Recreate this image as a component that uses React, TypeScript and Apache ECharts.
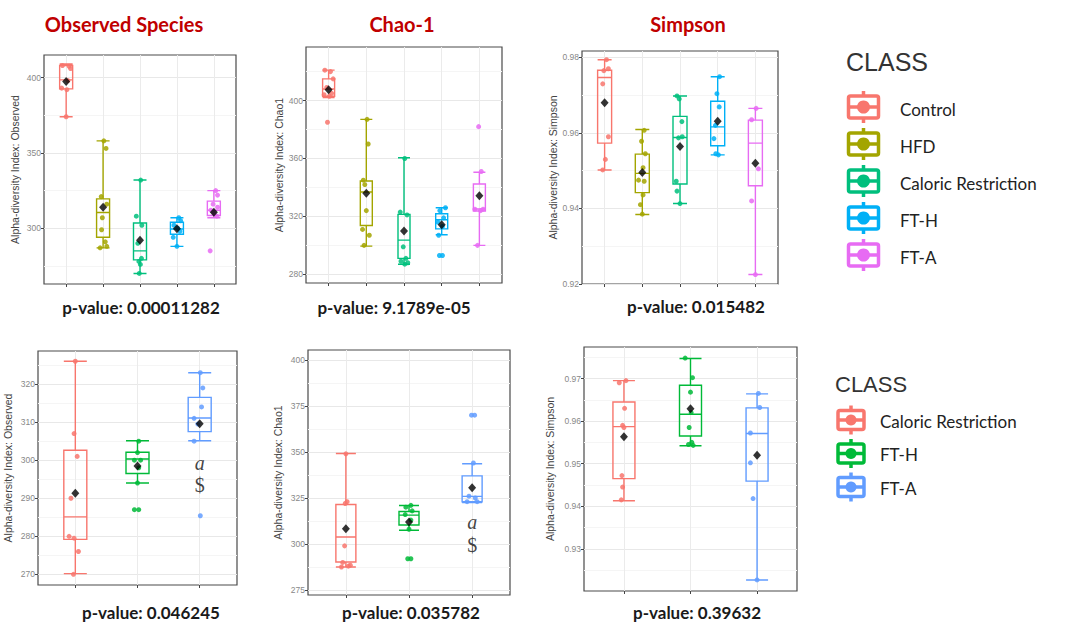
import React, { useEffect, useRef } from 'react';
import * as echarts from 'echarts';

// ---------- classes & colours ----------
const TOP_CLASSES = ['Control', 'HFD', 'Caloric Restriction', 'FT-H', 'FT-A'];
const TOP_COLORS = ['#F8766D', '#A3A500', '#00BF7D', '#00B0F6', '#E76BF3'];
const BOTTOM_CLASSES = ['Caloric Restriction', 'FT-H', 'FT-A'];
const BOTTOM_COLORS = ['#F8766D', '#00BA38', '#619CFF'];

// ---------- titles / p-values ----------
const TITLES = ['Observed Species', 'Chao-1', 'Simpson'];
const PVALUES_TOP = ['p-value: 0.00011282', 'p-value: 9.1789e-05', 'p-value: 0.015482'];
const PVALUES_BOTTOM = ['p-value: 0.046245', 'p-value: 0.035782', 'p-value: 0.39632'];

// ---------- top row: Observed ----------
// box stats: [lower whisker, Q1, median, Q3, upper whisker]
const OBS_TOP_BOX = [
  [374, 392.5, 398.5, 408, 409],
  [287, 294, 310.5, 319.5, 358],
  [270, 279, 285, 303.5, 332],
  [288, 296, 299.5, 304, 307],
  [307, 308.5, 312, 318, 325],
];
const OBS_TOP_MEAN = [397.4, 314, 292, 299.7, 310.6];
// points: [jitter offset, value]
const OBS_TOP_POINTS = [
  [[-0.1, 408], [0.08, 407.5], [0.12, 406], [0.05, 398], [-0.12, 393], [0.02, 392], [0, 374]],
  [[0.02, 358], [0.08, 353], [-0.05, 321], [0.1, 316], [-0.02, 307], [-0.04, 299], [0.06, 291], [0.1, 288], [-0.08, 287]],
  [[0.02, 332], [-0.1, 308], [0.05, 302], [-0.06, 290], [0.04, 280], [-0.03, 278], [0.01, 276], [-0.02, 270]],
  [[0.05, 307], [0.1, 305], [-0.08, 302], [0.02, 300], [0.08, 298], [-0.1, 294], [0, 288]],
  [[0.05, 325], [0.1, 322], [-0.02, 316], [0.1, 314], [-0.08, 312], [0, 310], [0.08, 308], [-0.1, 285]],
];
const OBS_TOP_TICKS = [300, 350, 400];
const OBS_TOP_MINOR = [275, 325, 375];

// ---------- top row: Chao1 ----------
const CHAO_TOP_BOX = [
  [402, 403, 408, 415, 421],
  [299.5, 313.7, 336.9, 344.5, 387],
  [287, 291, 303.6, 321.4, 360.5],
  [307.3, 311.4, 317.7, 321.8, 326],
  [300, 323.7, 325.1, 342.4, 350.5],
];
const CHAO_TOP_MEAN = [407.4, 336, 310, 314.2, 334.3];
const CHAO_TOP_POINTS = [
  [[-0.1, 421], [0.05, 420], [0.12, 415], [-0.05, 409], [0.08, 405], [-0.12, 404], [0.02, 403], [-0.03, 385]],
  [[0.02, 387], [0.05, 370], [-0.08, 345], [-0.04, 342], [0, 324], [-0.1, 311], [0.08, 307], [-0.06, 300]],
  [[0.02, 360], [-0.1, 323], [0.08, 321], [-0.02, 299], [0.05, 291], [-0.08, 289], [0.1, 288], [0.02, 287]],
  [[0.1, 326], [-0.05, 324], [0.05, 319], [-0.1, 316], [0.02, 313], [-0.08, 307], [-0.06, 293], [0.02, 293]],
  [[-0.02, 382], [0.05, 351], [-0.12, 325], [0.1, 325], [0.03, 324], [-0.05, 300]],
];
const CHAO_TOP_TICKS = [280, 320, 360, 400];
const CHAO_TOP_MINOR = [300, 340, 380, 420];

// ---------- top row: Simpson ----------
const SIMP_TOP_BOX = [
  [0.9502, 0.9573, 0.9747, 0.9766, 0.9794],
  [0.9384, 0.9442, 0.9493, 0.9544, 0.9609],
  [0.9413, 0.9465, 0.9588, 0.9644, 0.9698],
  [0.9542, 0.9566, 0.9616, 0.9684, 0.9749],
  [0.9225, 0.946, 0.9573, 0.9634, 0.9665],
];
const SIMP_TOP_MEAN = [0.968, 0.9495, 0.9564, 0.9631, 0.952];
const SIMP_TOP_POINTS = [
  [[0.05, 0.9794], [0.1, 0.977], [-0.02, 0.9765], [-0.05, 0.973], [0.1, 0.959], [0.02, 0.953], [-0.05, 0.9502]],
  [[0.05, 0.9607], [-0.02, 0.9578], [0.08, 0.9545], [0.02, 0.9508], [-0.1, 0.9475], [0.05, 0.9472], [0.02, 0.9436], [-0.05, 0.941], [0, 0.9385]],
  [[-0.08, 0.9698], [-0.02, 0.969], [0.05, 0.963], [0.06, 0.959], [-0.04, 0.9587], [-0.1, 0.9472], [-0.08, 0.9446], [0, 0.9413]],
  [[0.05, 0.9749], [-0.02, 0.9704], [0.04, 0.9669], [-0.06, 0.962], [-0.1, 0.9585], [-0.05, 0.9545], [0.02, 0.9542]],
  [[0.02, 0.9665], [-0.1, 0.9635], [0.08, 0.9505], [-0.1, 0.942], [0, 0.9225]],
];
const SIMP_TOP_TICKS = [0.92, 0.94, 0.96, 0.98];
const SIMP_TOP_MINOR = [0.93, 0.95, 0.97];

// ---------- bottom row: Observed ----------
const OBS_BOT_BOX = [
  [270.2, 279.2, 285.1, 302.6, 326],
  [294, 296.5, 300.3, 302.1, 305.1],
  [305.1, 307.5, 311.1, 316.5, 323],
];
const OBS_BOT_MEAN = [291.3, 298.5, 309.6];
const OBS_BOT_POINTS = [
  [[0, 326], [-0.02, 307], [0.03, 301], [-0.07, 290], [-0.1, 280], [-0.02, 279.5], [0.05, 276], [-0.03, 270]],
  [[0.02, 305], [0, 302], [-0.05, 300], [0.05, 300], [0.02, 298], [0, 294], [-0.05, 287], [0.02, 287]],
  [[0.01, 323], [0.05, 319], [0.03, 314], [-0.09, 311], [-0.03, 309.5], [-0.09, 305], [0.01, 285.4]],
];
const OBS_BOT_TICKS = [270, 280, 290, 300, 310, 320];
const OBS_BOT_MINOR = [275, 285, 295, 305, 315, 325];
const OBS_BOT_ANNOT = [['a', 299.3], ['$', 293.4]];

// ---------- bottom row: Chao1 ----------
const CHAO_BOT_BOX = [
  [287.5, 290.2, 303.8, 321.5, 349.2],
  [307.5, 310.3, 315.7, 317.7, 320.9],
  [322.5, 323, 325.9, 337, 343.6],
];
const CHAO_BOT_MEAN = [308.3, 311.9, 330.5];
const CHAO_BOT_POINTS = [
  [[0, 349], [0.02, 323], [-0.01, 322], [-0.02, 299], [-0.05, 290], [-0.07, 287.5], [0.07, 288.5], [0.04, 288]],
  [[0.03, 321], [-0.05, 320], [0.05, 318], [-0.06, 316], [0.03, 313], [0, 308], [-0.02, 292], [0.03, 292]],
  [[-0.01, 370], [0.04, 370], [0.02, 344], [-0.05, 326], [0.05, 325], [-0.08, 323], [0.08, 323]],
];
const CHAO_BOT_TICKS = [275, 300, 325, 350, 375, 400];
const CHAO_BOT_MINOR = [287.5, 312.5, 337.5, 362.5, 387.5];
const CHAO_BOT_ANNOT = [['a', 311.9], ['$', 299.6]];

// ---------- bottom row: Simpson ----------
const SIMP_BOT_BOX = [
  [0.9413, 0.9465, 0.9587, 0.9645, 0.9695],
  [0.9542, 0.9565, 0.9616, 0.9684, 0.9747],
  [0.9227, 0.9459, 0.9571, 0.9631, 0.9664],
];
const SIMP_BOT_MEAN = [0.9563, 0.9629, 0.952];
const SIMP_BOT_POINTS = [
  [[-0.07, 0.969], [0.03, 0.9695], [0.01, 0.963], [-0.02, 0.959], [0, 0.9585], [-0.03, 0.9472], [-0.02, 0.9445], [-0.04, 0.9415]],
  [[-0.08, 0.9748], [0.03, 0.9702], [0, 0.9668], [0.01, 0.962], [-0.02, 0.9585], [0.02, 0.955], [-0.03, 0.9545], [0.04, 0.9543]],
  [[0.02, 0.9665], [0.04, 0.9632], [-0.1, 0.9572], [-0.1, 0.9502], [-0.06, 0.9418], [0, 0.9227]],
];
const SIMP_BOT_TICKS = [0.93, 0.94, 0.95, 0.96, 0.97];
const SIMP_BOT_MINOR = [0.925, 0.935, 0.945, 0.955, 0.965, 0.975];

// ---------- panel assembly (layout kept separately from data) ----------
const PANELS = [
  { name: 'Alpha-diversity Index: Observed', classes: TOP_CLASSES, colors: TOP_COLORS, box: OBS_TOP_BOX, mean: OBS_TOP_MEAN, points: OBS_TOP_POINTS, ticks: OBS_TOP_TICKS, minor: OBS_TOP_MINOR, yMin: 263, yMax: 415, dec: 0, annot: null,
    grid: { left: 44, top: 55, width: 192, height: 229 }, nameGap: 24, boxW: 13 },
  { name: 'Alpha-diversity Index: Chao1', classes: TOP_CLASSES, colors: TOP_COLORS, box: CHAO_TOP_BOX, mean: CHAO_TOP_MEAN, points: CHAO_TOP_POINTS, ticks: CHAO_TOP_TICKS, minor: CHAO_TOP_MINOR, yMin: 274, yMax: 437, dec: 0, annot: null,
    grid: { left: 306, top: 47, width: 196, height: 236 }, nameGap: 22, boxW: 12 },
  { name: 'Alpha-diversity Index: Simpson', classes: TOP_CLASSES, colors: TOP_COLORS, box: SIMP_TOP_BOX, mean: SIMP_TOP_MEAN, points: SIMP_TOP_POINTS, ticks: SIMP_TOP_TICKS, minor: SIMP_TOP_MINOR, yMin: 0.92, yMax: 0.9817, dec: 2, annot: null,
    grid: { left: 582, top: 51, width: 196, height: 233 }, nameGap: 24, boxW: 14 },
  { name: 'Alpha-diversity Index: Observed', classes: BOTTOM_CLASSES, colors: BOTTOM_COLORS, box: OBS_BOT_BOX, mean: OBS_BOT_MEAN, points: OBS_BOT_POINTS, ticks: OBS_BOT_TICKS, minor: OBS_BOT_MINOR, yMin: 267.2, yMax: 328.7, dec: 0, annot: OBS_BOT_ANNOT,
    grid: { left: 38, top: 351, width: 199, height: 234 }, nameGap: 25, boxW: 23 },
  { name: 'Alpha-diversity Index: Chao1', classes: BOTTOM_CLASSES, colors: BOTTOM_COLORS, box: CHAO_BOT_BOX, mean: CHAO_BOT_MEAN, points: CHAO_BOT_POINTS, ticks: CHAO_BOT_TICKS, minor: CHAO_BOT_MINOR, yMin: 272.3, yMax: 405.4, dec: 0, annot: CHAO_BOT_ANNOT,
    grid: { left: 308, top: 350, width: 202, height: 245 }, nameGap: 25, boxW: 20 },
  { name: 'Alpha-diversity Index: Simpson', classes: BOTTOM_CLASSES, colors: BOTTOM_COLORS, box: SIMP_BOT_BOX, mean: SIMP_BOT_MEAN, points: SIMP_BOT_POINTS, ticks: SIMP_BOT_TICKS, minor: SIMP_BOT_MINOR, yMin: 0.9201, yMax: 0.9774, dec: 2, annot: null,
    grid: { left: 584, top: 347, width: 213, height: 244 }, nameGap: 29, boxW: 22 },
];

const TITLE_POS = [[124, 24], [402, 24], [688, 24]];
const PTOP_POS = [[141, 307], [394, 307], [696, 306]];
const PBOT_POS = [[151, 612], [411, 612], [697, 612]];

const SANS = 'Lato, "Liberation Sans", sans-serif';
const AXIS_FONT = '"Liberation Sans", Arial, sans-serif';

function legendKey(cx: number, cy: number, color: string, w: number, h: number, r: number) {
  return {
    type: 'group', x: cx, y: cy, silent: true,
    children: [
      { type: 'line', shape: { x1: 0, y1: -h / 2 - 5, x2: 0, y2: h / 2 + 5 }, style: { stroke: color, lineWidth: 3.5 } },
      { type: 'rect', shape: { x: -w / 2, y: -h / 2, width: w, height: h, r: 2 }, style: { fill: '#fff', stroke: color, lineWidth: 3.5 } },
      { type: 'line', shape: { x1: -w / 2, y1: 0, x2: w / 2, y2: 0 }, style: { stroke: color, lineWidth: 3.5 } },
      { type: 'circle', shape: { cx: 0, cy: 0, r }, style: { fill: color } },
    ],
  };
}

function buildOption() {
  const grid: any[] = [];
  const xAxis: any[] = [];
  const yAxis: any[] = [];
  const series: any[] = [];

  PANELS.forEach((p, k) => {
    const n = p.classes.length;
    const catPos = p.classes.map((_, i) => i + 1);
    grid.push({ ...p.grid, show: true, borderColor: '#4a4a4a', borderWidth: 1.2, backgroundColor: '#fff', containLabel: false });
    xAxis.push({
      type: 'value', gridIndex: k, min: 0.4, max: n + 0.6, position: 'bottom',
      axisLine: { show: false }, axisLabel: { show: false },
      axisTick: { show: true, customValues: catPos, length: 3, lineStyle: { color: '#444' } },
      splitLine: { show: true, lineStyle: { color: '#ebebeb', width: 1 } },
    });
    yAxis.push({
      type: 'value', gridIndex: k, min: p.yMin, max: p.yMax, position: 'left',
      axisLine: { show: false }, axisLabel: { show: false },
      axisTick: { show: false, customValues: p.minor },
      splitLine: { show: true, lineStyle: { color: '#f5f5f5', width: 1 } },
    });
    yAxis.push({
      type: 'value', gridIndex: k, min: p.yMin, max: p.yMax, position: 'left',
      name: p.name, nameLocation: 'middle', nameGap: p.nameGap,
      nameTextStyle: { fontSize: 10.5, color: '#444', fontFamily: AXIS_FONT },
      axisLine: { show: false },
      axisTick: { show: true, customValues: p.ticks, length: 3, lineStyle: { color: '#444' } },
      axisLabel: { show: true, customValues: p.ticks, fontSize: 8.5, color: '#888', margin: 3, fontFamily: AXIS_FONT,
        formatter: (v: number) => v.toFixed(p.dec) },
      splitLine: { show: true, lineStyle: { color: '#e8e8e8', width: 1 } },
    });
    const yi = 2 * k + 1;
    series.push({
      type: 'boxplot', xAxisIndex: k, yAxisIndex: yi, boxWidth: [p.boxW, p.boxW],
      itemStyle: { color: 'rgba(255,255,255,0)', borderWidth: 1.4 },
      emphasis: { disabled: true }, silent: true,
      data: p.box.map((b, i) => ({ value: [i + 1, ...b], itemStyle: { borderColor: p.colors[i], color: 'rgba(255,255,255,0)', borderWidth: 1.4 } })),
    });
    const pts: any[] = [];
    p.points.forEach((arr, i) => arr.forEach(([off, v]) => pts.push({ value: [i + 1 + off, v], itemStyle: { color: p.colors[i] } })));
    series.push({
      type: 'scatter', xAxisIndex: k, yAxisIndex: yi, symbolSize: 5, silent: true,
      itemStyle: { opacity: 0.85 }, data: pts,
    });
    series.push({
      type: 'scatter', xAxisIndex: k, yAxisIndex: yi, symbol: 'diamond', symbolSize: [8, 9], silent: true,
      itemStyle: { color: '#000' }, data: p.mean.map((m, i) => [i + 1, m]),
    });
    if (p.annot) {
      series.push({
        type: 'scatter', xAxisIndex: k, yAxisIndex: yi, symbolSize: 1, silent: true,
        itemStyle: { color: 'rgba(0,0,0,0)' },
        data: p.annot.map(([t, v]) => ({ value: [n, v], label: {
          show: true, position: 'inside', formatter: t as string, color: '#111', fontSize: 20,
          fontFamily: '"Liberation Serif", "DejaVu Serif", serif', fontStyle: t === 'a' ? 'italic' : 'normal' } })),
      });
    }
  });

  const graphic: any[] = [];
  TITLES.forEach((t, i) => graphic.push({ type: 'text', x: TITLE_POS[i][0], y: TITLE_POS[i][1], silent: true,
    style: { text: t, fill: '#c00000', font: `bold 20px ${SANS}`, align: 'center', verticalAlign: 'middle' } }));
  PVALUES_TOP.forEach((t, i) => graphic.push({ type: 'text', x: PTOP_POS[i][0], y: PTOP_POS[i][1], silent: true,
    style: { text: t, fill: '#1a1a1a', font: `bold 17px ${SANS}`, align: 'center', verticalAlign: 'middle' } }));
  PVALUES_BOTTOM.forEach((t, i) => graphic.push({ type: 'text', x: PBOT_POS[i][0], y: PBOT_POS[i][1], silent: true,
    style: { text: t, fill: '#1a1a1a', font: `bold 17px ${SANS}`, align: 'center', verticalAlign: 'middle' } }));

  // top legend
  graphic.push({ type: 'text', x: 846, y: 62, silent: true,
    style: { text: 'CLASS', fill: '#333', font: `25px ${AXIS_FONT}`, align: 'left', verticalAlign: 'middle' } });
  TOP_CLASSES.forEach((c, i) => {
    const y = 107 + i * 37;
    graphic.push(legendKey(863.5, y, TOP_COLORS[i], 30, 22, 6.5));
    graphic.push({ type: 'text', x: 900, y: y + 2, silent: true,
      style: { text: c, fill: '#222', font: `17px ${SANS}`, align: 'left', verticalAlign: 'middle' } });
  });
  // bottom legend
  graphic.push({ type: 'text', x: 835, y: 384, silent: true,
    style: { text: 'CLASS', fill: '#333', font: `22px ${AXIS_FONT}`, align: 'left', verticalAlign: 'middle' } });
  BOTTOM_CLASSES.forEach((c, i) => {
    const y = 420 + i * 33.5;
    graphic.push(legendKey(851, y, BOTTOM_COLORS[i], 26, 19, 5.5));
    graphic.push({ type: 'text', x: 880, y: y + 1, silent: true,
      style: { text: c, fill: '#222', font: `17px ${SANS}`, align: 'left', verticalAlign: 'middle' } });
  });

  return { animation: false, backgroundColor: '#fff', grid, xAxis, yAxis, series, graphic };
}

export default function App() {
  const ref = useRef<HTMLDivElement>(null);
  useEffect(() => {
    if (!ref.current) return;
    const chart = echarts.init(ref.current, undefined, { renderer: 'svg' });
    chart.setOption(buildOption() as any);
    return () => chart.dispose();
  }, []);
  return <div ref={ref} style={{ position: 'absolute', left: 0, top: 0, width: 1067, height: 623, background: '#fff' }} />;
}
